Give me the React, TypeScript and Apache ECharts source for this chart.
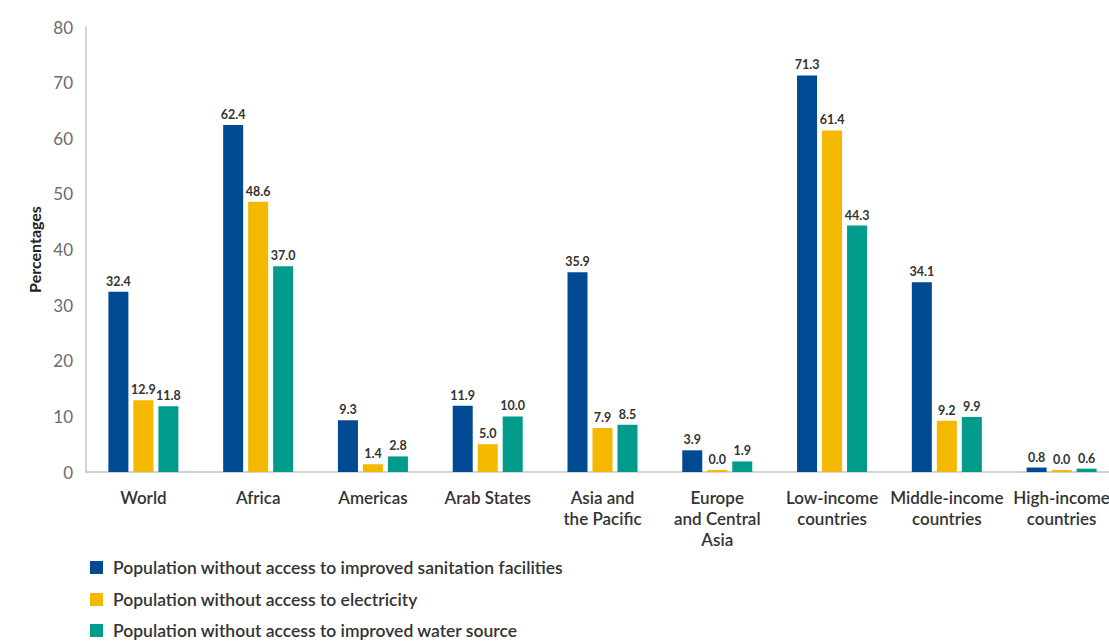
import React, { useEffect, useRef } from "react";
import * as echarts from "echarts";

const categories = [
  "World",
  "Africa",
  "Americas",
  "Arab States",
  "Asia and\nthe Pacific",
  "Europe\nand Central\nAsia",
  "Low-income\ncountries",
  "Middle-income\ncountries",
  "High-income\ncountries",
];

const seriesNames = [
  "Population without access to improved sanitation facilities",
  "Population without access to electricity",
  "Population without access to improved water source",
];

const sanitation = [32.4, 62.4, 9.3, 11.9, 35.9, 3.9, 71.3, 34.1, 0.8];
const electricity = [12.9, 48.6, 1.4, 5.0, 7.9, 0.0, 61.4, 9.2, 0.0];
const water = [11.8, 37.0, 2.8, 10.0, 8.5, 1.9, 44.3, 9.9, 0.6];

const colors = ["#004A93", "#F4B800", "#009B8A"];

export default function App() {
  const ref = useRef<HTMLDivElement>(null);
  useEffect(() => {
    if (!ref.current) return;
    const chart = echarts.init(ref.current, null, { renderer: "svg" });
    const font = "Lato, 'Open Sans', sans-serif";
    const mk = (name: string, data: number[], color: string) => ({
      name,
      type: "bar",
      data,
      barWidth: 20,
      barGap: "25%",
      barMinHeight: 2,
      itemStyle: { color },
      label: {
        show: true,
        position: "top",
        distance: 4,
        formatter: (p: any) => Number(p.value).toFixed(1),
        color: "#333",
        fontFamily: font,
        fontWeight: "bold",
        fontSize: 12.5,
      },
    });
    const legendTops = [558.5, 590.5, 621.5];
    chart.setOption({
      animation: false,
      textStyle: { fontFamily: font },
      legend: seriesNames.map((n, i) => ({
        orient: "vertical",
        left: 90,
        top: legendTops[i],
        padding: 0,
        itemWidth: 13,
        itemHeight: 13,
        icon: "rect",
        data: [n],
        textStyle: {
          fontSize: 17.5,
          lineHeight: 15,
          color: "#333",
          fontWeight: 600,
          fontFamily: font,
          padding: [0, 0, 0, 5],
        },
      })),
      grid: { left: 86, top: 27, width: 1033, height: 445, containLabel: false },
      xAxis: {
        type: "category",
        data: categories,
        axisLine: { lineStyle: { color: "#c4c4c8", width: 1.5 } },
        axisTick: { show: false },
        axisLabel: {
          color: "#333",
          fontSize: 17,
          fontWeight: 600,
          lineHeight: 21,
          margin: 15,
          interval: 0,
          fontFamily: font,
        },
      },
      yAxis: {
        type: "value",
        min: 0,
        max: 80,
        interval: 10,
        name: "Percentages",
        nameLocation: "middle",
        nameGap: 43,
        nameTextStyle: {
          color: "#222",
          fontSize: 16,
          fontWeight: "bold",
          fontFamily: font,
        },
        axisLine: { show: true, lineStyle: { color: "#c4c4c8", width: 1.5 } },
        axisTick: { show: false },
        splitLine: { show: false },
        axisLabel: { color: "#6b6b6b", fontSize: 17, margin: 13, fontFamily: font },
      },
      series: [
        mk(seriesNames[0], sanitation, colors[0]),
        mk(seriesNames[1], electricity, colors[1]),
        mk(seriesNames[2], water, colors[2]),
      ],
    });
    return () => chart.dispose();
  }, []);
  return (
    <div
      ref={ref}
      style={{ position: "fixed", left: 0, top: 0, width: 1124, height: 641, background: "#fff" }}
    />
  );
}
